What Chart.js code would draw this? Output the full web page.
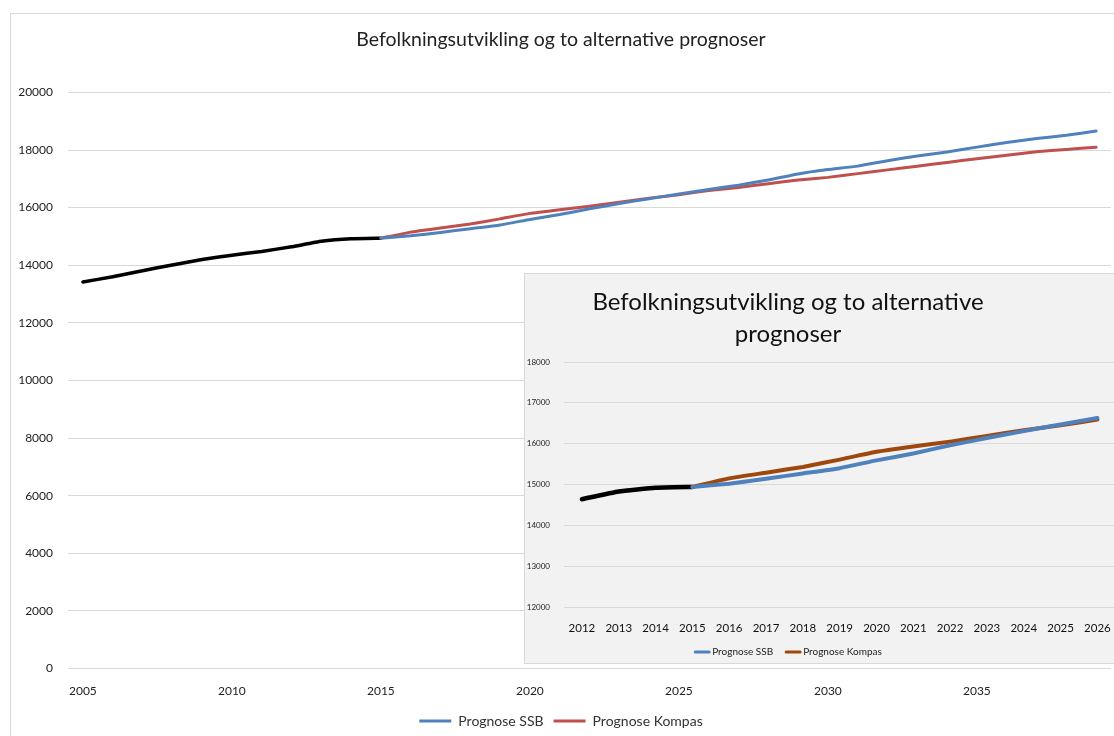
<!DOCTYPE html>
<html>
<head>
<meta charset="utf-8">
<script src="https://cdn.jsdelivr.net/npm/chart.js@4.4.1/dist/chart.umd.min.js"></script>
<style>
  html, body { margin:0; padding:0; background:#fff; width:1114px; height:736px; overflow:hidden; position:relative; }
  #frame { position:absolute; left:10px; top:13px; width:1200px; height:800px; border:1px solid #d9d9d9; box-sizing:border-box; }
  #mainCanvas { position:absolute; left:11px; top:14px; }
  #insetBox { position:absolute; left:524px; top:273px; width:640px; height:389px; border:1px solid #d9d9d9; background:#f2f2f2; overflow:hidden; }
  #insetCanvas { position:absolute; left:0; top:0; }
</style>
</head>
<body>
<div id="frame"></div>
<canvas id="mainCanvas" width="1120" height="730"></canvas>
<div id="insetBox"><canvas id="insetCanvas" width="600" height="389"></canvas></div>
<script>
// ---------- DATA ----------
const mainTitle = "Befolkningsutvikling og to alternative prognoser";
const insetTitleLines = ["Befolkningsutvikling og to alternative", "prognoser"];
const years = [2005,2006,2007,2008,2009,2010,2011,2012,2013,2014,2015,2016,2017,2018,2019,2020,2021,2022,2023,2024,2025,2026,2027,2028,2029,2030,2031,2032,2033,2034,2035,2036,2037,2038,2039];
const historyStartYear = 2005;
const historyValues = [13420,13600,13810,14010,14200,14350,14480,14640,14830,14920,14940];
const forecastStartYear = 2015;
const ssbValues = [14940,15020,15140,15270,15400,15590,15760,15960,16140,16310,16470,16630,16780,16960,17170,17320,17440,17630,17790,17930,18100,18260,18400,18510,18660];
const kompasValues = [14940,15150,15290,15430,15610,15800,15930,16050,16190,16330,16450,16590,16700,16830,16960,17050,17180,17310,17440,17570,17700,17820,17940,18020,18100];
const seriesNames = ["Prognose SSB", "Prognose Kompas", "Befolkning"];
const insetFirstYear = 2012, insetLastYear = 2026;
const mainYTicks = { min:0, max:20000, step:2000 };
const insetYTicks = { min:12000, max:18000, step:1000 };

// ---------- helpers ----------
function alignSeries(labels, startYear, values) {
  return labels.map(y => {
    const i = y - startYear;
    return (i >= 0 && i < values.length) ? values[i] : null;
  });
}
const insetYears = years.filter(y => y >= insetFirstYear && y <= insetLastYear);
const plainNumber = v => String(v);

Chart.defaults.font.family = "Lato, 'Open Sans', sans-serif";
Chart.defaults.animation = false;

const lineStyle = { pointRadius:0, tension:0.12, borderCapStyle:'round', borderJoinStyle:'round' };

// ---------- MAIN CHART ----------
const mainChart = new Chart(document.getElementById('mainCanvas'), {
  type: 'line',
  data: {
    labels: years,
    datasets: [
      Object.assign({ label: seriesNames[0], data: alignSeries(years, forecastStartYear, ssbValues), borderColor:'#4F81BD', backgroundColor:'#4F81BD', borderWidth:3 }, lineStyle),
      Object.assign({ label: seriesNames[1], data: alignSeries(years, forecastStartYear, kompasValues), borderColor:'#C0504D', backgroundColor:'#C0504D', borderWidth:3 }, lineStyle),
      Object.assign({ label: seriesNames[2], data: alignSeries(years, historyStartYear, historyValues), borderColor:'#000000', backgroundColor:'#000000', borderWidth:3.5 }, lineStyle)
    ]
  },
  options: {
    responsive:false, devicePixelRatio:1, animation:false,
    layout: { padding: { left:0, right:20, top:0, bottom:6 } },
    plugins: {
      title: { display:true, text: mainTitle, color:'#222', font:{ size:19.5, weight:'normal' }, padding:{ top:14, bottom:41 } },
      legend: { position:'bottom', labels:{ usePointStyle:true, pointStyle:'line', pointStyleWidth:32, color:'#333', font:{ size:14 }, padding:10, filter: item => item.datasetIndex !== 2 } },
      tooltip: { enabled:false }
    },
    scales: {
      x: {
        type:'category', offset:true,
        grid:{ display:false, drawTicks:false }, border:{ display:false },
        ticks:{ autoSkip:false, maxRotation:0, padding:15, color:'#222', font:{ size:12 },
          callback: function(v, i) { return years[i] % 5 === 0 ? String(years[i]) : ''; } },
        afterFit: s => { s.height = 35.5; }
      },
      y: {
        min: mainYTicks.min, max: mainYTicks.max,
        ticks:{ stepSize: mainYTicks.step, padding:15, color:'#222', font:{ size:12 }, callback: plainNumber },
        grid:{ color:'#d9d9d9', drawTicks:false }, border:{ display:false },
        afterFit: s => { s.width = 57; }
      }
    }
  }
});

// ---------- INSET CHART ----------
const insetDecor = {
  id:'insetDecor',
  afterDraw(chart, args, opts) {
    const ctx = chart.ctx;
    ctx.save();
    ctx.fillStyle = '#111';
    ctx.textAlign = 'center';
    ctx.textBaseline = 'middle';
    ctx.font = "24px Lato, 'Open Sans', sans-serif";
    opts.lines.forEach((t, i) => ctx.fillText(t, opts.cx, opts.ty + i * opts.lh));
    // legend
    ctx.font = "10px Lato, 'Open Sans', sans-serif";
    const items = chart.data.datasets.filter(d => d.inLegend);
    const lineW = 16, gapA = 2, gapB = 12;
    const widths = items.map(d => lineW + gapA + ctx.measureText(d.label).width);
    const total = widths.reduce((a, b) => a + b, 0) + gapB * (items.length - 1);
    let x = opts.cx - total / 2;
    const y = opts.ly;
    items.forEach((d, i) => {
      ctx.strokeStyle = d.borderColor; ctx.lineWidth = 3; ctx.lineCap = 'round';
      ctx.beginPath(); ctx.moveTo(x + 1, y); ctx.lineTo(x + lineW - 1, y); ctx.stroke();
      ctx.fillStyle = '#222'; ctx.textAlign = 'left';
      ctx.fillText(d.label, x + lineW + gapA, y);
      x += widths[i] + gapB;
    });
    ctx.restore();
  }
};

const insetChart = new Chart(document.getElementById('insetCanvas'), {
  type:'line',
  data: {
    labels: insetYears,
    datasets: [
      Object.assign({ label: seriesNames[0], inLegend:true, data: alignSeries(insetYears, forecastStartYear, ssbValues), borderColor:'#4F81BD', borderWidth:4 }, lineStyle),
      Object.assign({ label: seriesNames[1], inLegend:true, data: alignSeries(insetYears, forecastStartYear, kompasValues), borderColor:'#9E480E', borderWidth:4 }, lineStyle),
      Object.assign({ label: seriesNames[2], inLegend:false, data: alignSeries(insetYears, historyStartYear, historyValues), borderColor:'#000000', borderWidth:4.5 }, lineStyle)
    ]
  },
  options: {
    responsive:false, devicePixelRatio:1, animation:false,
    layout: { padding: { left:0, right:7.5, top:88, bottom:0 } },
    plugins: {
      title:{ display:false }, legend:{ display:false }, tooltip:{ enabled:false },
      insetDecor: { lines: insetTitleLines, cx:263, ty:28, lh:32, ly:378 }
    },
    scales: {
      x: {
        type:'category', offset:true,
        grid:{ display:false, drawTicks:false }, border:{ display:false },
        ticks:{ autoSkip:false, maxRotation:0, padding:14, color:'#111', font:{ size:11.5 } },
        afterFit: s => { s.height = 56; }
      },
      y: {
        min: insetYTicks.min, max: insetYTicks.max,
        ticks:{ stepSize: insetYTicks.step, padding:13.5, color:'#222', font:{ size:8 }, callback: plainNumber },
        grid:{ color:'#d9d9d9', drawTicks:false }, border:{ display:false },
        afterFit: s => { s.width = 38.5; }
      }
    }
  },
  plugins: [insetDecor]
});

if (document.fonts && document.fonts.ready) {
  document.fonts.ready.then(() => { mainChart.update(); insetChart.update(); });
}
</script>
</body>
</html>
